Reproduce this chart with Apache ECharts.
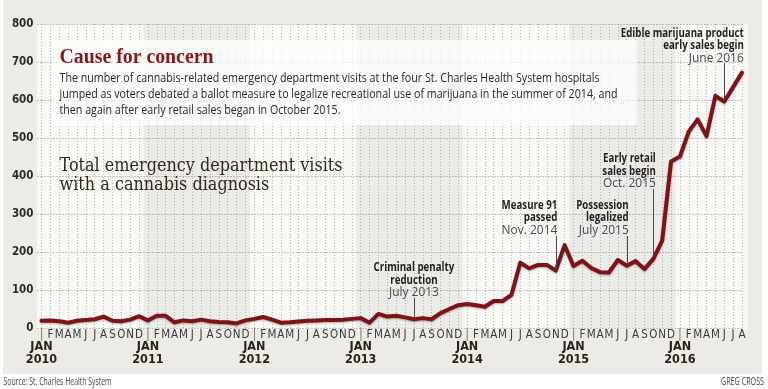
<!DOCTYPE html>
<html><head><meta charset="utf-8">
<script src="https://cdn.jsdelivr.net/npm/echarts@6/dist/echarts.min.js"></script>
<style>html,body{margin:0;padding:0;background:#fff}#c{width:768px;height:389px}</style>
</head><body><div id="c"></div>
<script>
// ---- data ----
const categories = [
 '2010-01','2010-02','2010-03','2010-04','2010-05','2010-06','2010-07','2010-08','2010-09','2010-10','2010-11','2010-12',
 '2011-01','2011-02','2011-03','2011-04','2011-05','2011-06','2011-07','2011-08','2011-09','2011-10','2011-11','2011-12',
 '2012-01','2012-02','2012-03','2012-04','2012-05','2012-06','2012-07','2012-08','2012-09','2012-10','2012-11','2012-12',
 '2013-01','2013-02','2013-03','2013-04','2013-05','2013-06','2013-07','2013-08','2013-09','2013-10','2013-11','2013-12',
 '2014-01','2014-02','2014-03','2014-04','2014-05','2014-06','2014-07','2014-08','2014-09','2014-10','2014-11','2014-12',
 '2015-01','2015-02','2015-03','2015-04','2015-05','2015-06','2015-07','2015-08','2015-09','2015-10','2015-11','2015-12',
 '2016-01','2016-02','2016-03','2016-04','2016-05','2016-06','2016-07','2016-08'
];
const visits = [
 19,20,18,14,19,21,23,30,19,18,22,31,
 20,32,32,15,20,18,22,18,16,15,12,20,
 24,29,22,14,15,17,19,20,21,21,22,24,
 26,14,37,30,32,28,23,26,23,39,50,60,
 63,60,56,71,71,87,172,157,166,166,151,218,
 163,177,158,147,146,179,164,176,155,182,230,438,
 451,517,549,505,611,596,634,672
];
const yTicks = [0,100,200,300,400,500,600,700,800];
const monthLetters = ['J','F','M','A','M','J','J','A','S','O','N','D'];
const shadedYears = ['2011','2013','2015'];
const annotations = [
 {month:'2013-07', title:['Criminal penalty','reduction'], date:'July 2013'},
 {month:'2014-11', title:['Measure 91','passed'], date:'Nov. 2014'},
 {month:'2015-07', title:['Possession','legalized'], date:'July 2015'},
 {month:'2015-10', title:['Early retail','sales begin'], date:'Oct. 2015'},
 {month:'2016-06', title:['Edible marijuana product','early sales begin'], date:'June 2016'}
];
const headline = 'Cause for concern';
const bodyLines = [
 'The number of cannabis-related emergency department visits at the four St. Charles Health System hospitals',
 'jumped as voters debated a ballot measure to legalize recreational use of marijuana in the summer of 2014, and',
 'then again after early retail sales began in October 2015.'
];
const chartTitle = ['Total emergency department visits','with a cannabis diagnosis'];
const sourceText = 'Source: St. Charles Health System';
const creditText = 'GREG CROSS';

// ---- layout / style ----
const NARROW = "'Liberation Sans Narrow','DejaVu Sans Condensed',sans-serif";
const SANS = "'Open Sans','Noto Sans',sans-serif";
const SERIF = "'Liberation Serif','DejaVu Serif',serif";
const SERIF2 = "'DejaVu Serif','Liberation Serif',serif";
const annoLayout = [
 {align:'center', dx:0, y0:267.5, top:298},
 {align:'right', dx:1.5, y0:205, top:236},
 {align:'right', dx:2, y0:205, top:236},
 {align:'right', dx:2.5, y0:158.5, top:189},
 {align:'right', dx:19.5, y0:33, top:63}
];

const mctx = document.createElement('canvas').getContext('2d');
function measure(text, font){ mctx.font = font; return mctx.measureText(text).width; }
function txt(text, x, y, font, fill, align, scale){
  return {type:'text', x:x, y:y, scaleX:scale||1, z:10,
    style:{text:text, font:font, fill:fill, textAlign:align||'left', textVerticalAlign:'middle', align:align||'left', verticalAlign:'middle'}};
}

const chart = echarts.init(document.getElementById('c'), null, {renderer:'canvas'});

const idx = m => categories.indexOf(m);
const markAreas = shadedYears.map(y => [{xAxis: idx(y+'-01') - 0.5}, {xAxis: idx(y+'-12') + 0.5}]);
const monthOf = v => { const c = categories[Math.round(v)]; return c ? c.split('-') : null; };

chart.setOption({
  animation:false,
  backgroundColor:'#ffffff',
  grid:{left:41.5, right:26, top:24, bottom:61, show:false},
  xAxis:[{
    type:'value', min:0, max:categories.length-1, interval:1,
    axisLine:{show:false}, axisTick:{show:false},
    splitLine:{show:true, lineStyle:{type:[1,2], color:'#b9b9b6', width:1}},
    axisLabel:{
      margin:1, showMinLabel:true, showMaxLabel:true, hideOverlap:false,
      formatter:function(v){
        const p = monthOf(v); if(!p) return '';
        const m = parseInt(p[1],10);
        if(m===1) return '{bar|\u2502}';
        return '{m|'+monthLetters[m-1]+'}';
      },
      rich:{
        m:{fontFamily:NARROW, fontSize:11.5, color:'#3a3a3a', lineHeight:12},
        bar:{fontFamily:"'DejaVu Sans',sans-serif", fontSize:11, color:'#6e6e6e', lineHeight:12}
      }
    }
  },{
    type:'value', min:0, max:categories.length-1, interval:1, position:'bottom',
    axisLine:{show:false}, axisTick:{show:false}, splitLine:{show:false},
    axisLabel:{
      margin:12.5, showMinLabel:true, showMaxLabel:true, hideOverlap:false,
      formatter:function(v){
        const p = monthOf(v); if(!p) return '';
        return p[1]==='01' ? '{yr|JAN}\n{yr|'+p[0]+'}' : '';
      },
      rich:{ yr:{fontFamily:NARROW, fontSize:12.5, fontWeight:'bold', color:'#2b2219', lineHeight:12.5} }
    }
  }],
  yAxis:{
    type:'value', min:yTicks[0], max:yTicks[yTicks.length-1], interval:yTicks[1]-yTicks[0],
    axisLine:{show:false},
    axisTick:{show:true, length:6, lineStyle:{type:[1,2], color:'#8f8f8c'}},
    splitLine:{show:true, lineStyle:{type:[1,2], color:'#8f8f8c'}},
    axisLabel:{fontFamily:NARROW, fontWeight:'bold', fontSize:11.5, color:'#2b2b2b', margin:8}
  },
  series:[{
    type:'line', xAxisIndex:0, data:visits.map((v,i)=>[i,v]), symbol:'none', smooth:false,
    lineStyle:{color:'#7f1214', width:4, join:'round', cap:'round', shadowColor:'rgba(0,0,0,0.3)', shadowBlur:2, shadowOffsetY:1},
    markArea:{silent:true, itemStyle:{color:'rgba(0,0,0,0.05)'}, data:markAreas},
    z:5
  }]
});

// ---- texts and annotations ----
const g = [];
g.push({type:'rect', shape:{x:3,y:0,width:759,height:374}, style:{fill:'#ecebe6'}, z:-30});
g.push({type:'rect', shape:{x:37,y:24,width:711,height:306}, style:{fill:'#f8f8f5'}, z:-20});
g.push({type:'rect', shape:{x:52,y:40,width:585,height:85}, style:{fill:'rgba(255,255,255,0.72)'}, z:8});

const fHead = 'bold 20px '+SERIF;
g.push(txt(headline, 59.5, 57.5, fHead, '#8a1719', 'left', 154/measure(headline,fHead)));
const fBody = '13px '+SANS;
const sBody = 540/measure(bodyLines[0], fBody);
const bodyY = [78, 94.3, 110.5];
bodyLines.forEach((l,i)=>g.push(txt(l, 59.5, bodyY[i], fBody, '#262626', 'left', sBody)));
const fTitle = '18px '+SERIF2;
const sTitle = 283/measure(chartTitle[0], fTitle);
g.push(txt(chartTitle[0], 59.5, 166.5, fTitle, '#35271c', 'left', sTitle));
g.push(txt(chartTitle[1], 59.5, 185, fTitle, '#35271c', 'left', sTitle));

const fSrc = '10px '+SANS;
g.push(txt(sourceText, 3.5, 382, fSrc, '#444', 'left', 108/measure(sourceText,fSrc)));
g.push(txt(creditText, 764, 382, fSrc, '#444', 'right', 43/measure(creditText,fSrc)));

const fAB = 'bold 12.5px '+SANS, fAR = '12.5px '+SANS;
const sAB = 123/measure('Edible marijuana product', fAB);
const sAR = 55/measure('June 2016', fAR);
annotations.forEach((a,k)=>{
  const L = annoLayout[k];
  const i = idx(a.month);
  const p = chart.convertToPixel({xAxisIndex:0, yAxisIndex:0}, [i, visits[i]]);
  const x = Math.round(p[0]) + 0.5;
  const tx = p[0] + L.dx;
  a.title.forEach((t,j)=>g.push(txt(t, tx, L.y0 + j*12.5, fAB, '#231f1c', L.align, sAB)));
  g.push(txt(a.date, tx, L.y0 + a.title.length*12.5, fAR, '#4a4a4a', L.align, sAR));
  g.push({type:'line', shape:{x1:x, y1:L.top, x2:x, y2:p[1]-2}, style:{stroke:'#4a4a4a', lineWidth:1}, z:10});
});
chart.setOption({graphic:{elements:g}});
</script></body></html>
